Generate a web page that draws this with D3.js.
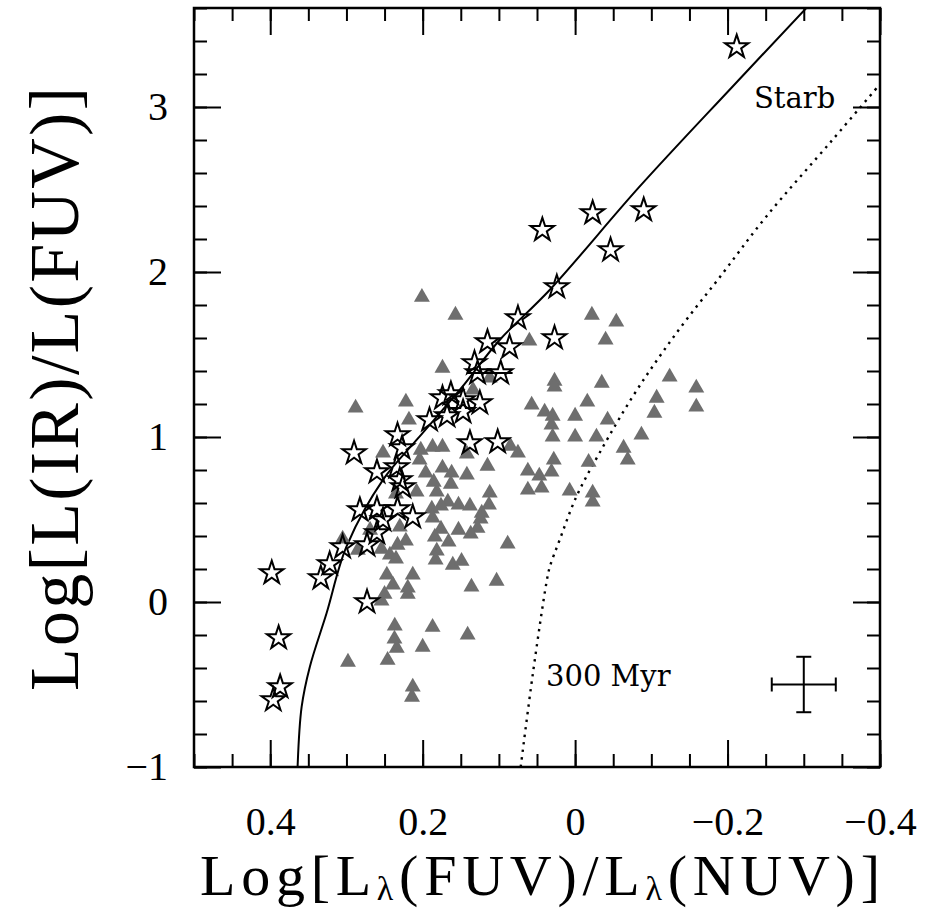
<!DOCTYPE html>
<html>
<head>
<meta charset="utf-8">
<script src="https://cdnjs.cloudflare.com/ajax/libs/d3/7.8.5/d3.min.js"></script>
<style>
html, body { margin: 0; padding: 0; background: #fff; }
svg { display: block; }
</style>
</head>
<body>
<svg id="chart" width="932" height="910"></svg>
<script>

// galaxies (gray filled triangles)
var triX = [0.201, 0.157, 0.060, 0.174, 0.288, 0.222, 0.057, 0.040, 0.218, 0.187,
  0.174, 0.2025, 0.252, 0.142, 0.085, 0.075, 0.204, 0.174, 0.142, 0.115,
  0.062, 0.047, 0.031, 0.196, 0.162, 0.1855, 0.163, 0.062, 0.044, 0.208,
  0.1815, 0.167, 0.153, 0.138, 0.112, 0.113, 0.188, 0.176, 0.1225, 0.187,
  0.124, 0.128, 0.230, 0.269, 0.176, 0.153, 0.137, 0.184, 0.222, 0.233,
  0.166, 0.0885, 0.305, 0.285, 0.254, 0.243, 0.235, 0.1815, 0.183, 0.1605,
  0.149, 0.247, 0.213, 0.103, 0.239, 0.2195, 0.2195, 0.136, 0.250, 0.254,
  0.2366, 0.187, 0.141, 0.237, 0.234, 0.200, 0.246, 0.298, 0.213, 0.214,
  -0.022, -0.054, -0.040, 0.027, 0.027, -0.035, -0.124, -0.159, -0.159, -0.107,
  -0.104, 0.0295, 0.031, -0.016, 0.000, -0.0426, -0.087, 0.0295, 0.000, -0.028,
  -0.0636, -0.069, 0.028, -0.0177, 0.0072, -0.023, -0.023, 0.134, 0.112, 0.235];
var triY = [1.848, 1.739, 1.582, 1.418, 1.176, 1.212, 1.194, 1.152, 1.103, 0.939,
  0.939, 0.921, 0.903, 0.897, 0.945, 0.903, 0.861, 0.812, 0.770, 0.824,
  0.794, 0.764, 0.788, 0.782, 0.782, 0.727, 0.715, 0.679, 0.691, 0.667,
  0.667, 0.606, 0.588, 0.582, 0.661, 0.588, 0.564, 0.582, 0.539, 0.509,
  0.503, 0.448, 0.455, 0.436, 0.442, 0.436, 0.412, 0.394, 0.370, 0.345,
  0.364, 0.352, 0.382, 0.315, 0.321, 0.285, 0.261, 0.309, 0.255, 0.224,
  0.248, 0.164, 0.164, 0.127, 0.103, 0.085, 0.048, 0.091, 0.048, 0.006,
  -0.145, -0.152, -0.200, -0.224, -0.279, -0.273, -0.352, -0.364, -0.515, -0.576,
  1.739, 1.697, 1.588, 1.339, 1.303, 1.327, 1.364, 1.297, 1.182, 1.236,
  1.145, 1.127, 1.073, 1.212, 1.127, 1.103, 1.012, 1.000, 1.000, 1.000,
  0.933, 0.861, 0.861, 0.848, 0.673, 0.661, 0.606, 1.285, 1.358, 0.655];

// starbursts (open stars)
var starX = [-0.212, 0.043, -0.023, -0.090, -0.0465, 0.024, 0.075, 0.115, 0.086, 0.027,
  0.132, 0.128, 0.0976, 0.163, 0.174, 0.147, 0.125, 0.147, 0.191, 0.168,
  0.233, 0.227, 0.138, 0.1016, 0.290, 0.260, 0.234, 0.230, 0.226, 0.2824,
  0.260, 0.233, 0.213, 0.252, 0.260, 0.273, 0.305, 0.322, 0.3336, 0.398,
  0.273, 0.389, 0.387, 0.396];
var starY = [3.364, 2.255, 2.358, 2.376, 2.133, 1.909, 1.721, 1.576, 1.545, 1.600,
  1.448, 1.388, 1.388, 1.261, 1.236, 1.224, 1.206, 1.152, 1.103, 1.127,
  1.012, 0.933, 0.964, 0.970, 0.903, 0.788, 0.818, 0.739, 0.697, 0.558,
  0.564, 0.564, 0.515, 0.497, 0.418, 0.345, 0.333, 0.230, 0.145, 0.176,
  0.000, -0.218, -0.515, -0.594];
// the one star with a horizontal bar through it
var barStar = 12;
var barX = [0.142, 0.082];

// starburst relation (solid) and 300 Myr model (dotted)
var starbX = [0.3641, 0.3588, 0.348, 0.326, 0.300, 0.2523, 0.208, 0.1514, 0.099, 0.0334, -0.0845, -0.2064, -0.303];
var starbY = [-1.0, -0.636, -0.392, -0.067, 0.335, 0.739, 0.982, 1.285, 1.588, 1.891, 2.517, 3.123, 3.598];
var myrX = [0.0714, 0.0553, 0.0377, 0.0334, 0.0203, -0.0016, -0.032, -0.0754, -0.1107, -0.1457, -0.187, -0.2506, -0.3375, -0.399];
var myrY = [-1.0, -0.430, 0.115, 0.21, 0.376, 0.638, 0.903, 1.244, 1.487, 1.709, 1.952, 2.335, 2.8, 3.133];

// typical error
var errX = -0.30, errY = -0.50, errDx = 0.042, errDy = 0.168;

var xTicks = [0.4, 0.2, 0, -0.2, -0.4];
var xTickLabels = ["0.4", "0.2", "0", "\u22120.2", "\u22120.4"];
var yTicks = [3, 2, 1, 0, -1];
var yTickLabels = ["3", "2", "1", "0", "\u22121"];

var svg = d3.select("#chart");
var x = d3.scaleLinear().domain([0.5, -0.4]).range([194, 880]);
var y = d3.scaleLinear().domain([-1, 3.6]).range([767, 8]);

var xMinor = d3.range(-8, 11).map(function(i) { return i * 0.05; });
var yMinor = d3.range(-5, 19).map(function(i) { return i * 0.2; });

svg.append("clipPath").attr("id", "clip")
  .append("rect").attr("x", 194).attr("y", 8).attr("width", 686).attr("height", 759);

function axisLayer(gen, tx, ty) {
  var g = svg.append("g").attr("transform", "translate(" + tx + "," + ty + ")").call(gen);
  g.select(".domain").remove();
  g.selectAll(".tick line").attr("stroke", "#000").attr("stroke-width", 2);
  return g;
}

// minor ticks on all four sides
axisLayer(d3.axisBottom(x).tickValues(xMinor).tickSize(-13).tickFormat(""), 0, 767);
axisLayer(d3.axisTop(x).tickValues(xMinor).tickSize(-13).tickFormat(""), 0, 8);
axisLayer(d3.axisLeft(y).tickValues(yMinor).tickSize(-13).tickFormat(""), 194, 0);
axisLayer(d3.axisRight(y).tickValues(yMinor).tickSize(-13).tickFormat(""), 880, 0);

// major ticks, labelled on bottom and left
var bx = axisLayer(d3.axisBottom(x).tickValues(xTicks).tickSize(-27).tickPadding(40)
  .tickFormat(function(d, i) { return xTickLabels[i]; }), 0, 767);
axisLayer(d3.axisTop(x).tickValues(xTicks).tickSize(-27).tickFormat(""), 0, 8);
var ly = axisLayer(d3.axisLeft(y).tickValues(yTicks).tickSize(-27).tickPadding(26)
  .tickFormat(function(d, i) { return yTickLabels[i]; }), 194, 0);
axisLayer(d3.axisRight(y).tickValues(yTicks).tickSize(-27).tickFormat(""), 880, 0);

[bx, ly].forEach(function(g) {
  g.attr("font-family", "'Liberation Serif', serif").attr("font-size", 40);
  g.selectAll("text").attr("fill", "#000");
});

svg.append("rect")
  .attr("x", 194).attr("y", 8).attr("width", 686).attr("height", 759)
  .attr("fill", "none").attr("stroke", "#000").attr("stroke-width", 2.5);

var plot = svg.append("g").attr("clip-path", "url(#clip)");

var line = d3.line()
  .x(function(d) { return x(d[0]); })
  .y(function(d) { return y(d[1]); })
  .curve(d3.curveCatmullRom);

plot.append("path")
  .attr("d", line(d3.zip(starbX, starbY)))
  .attr("fill", "none").attr("stroke", "#000").attr("stroke-width", 2);

plot.append("path")
  .attr("d", line(d3.zip(myrX, myrY)))
  .attr("fill", "none").attr("stroke", "#000").attr("stroke-width", 2.4)
  .attr("stroke-dasharray", "2.4,5.2");

// triangles first, stars drawn open on top
plot.selectAll(".tri")
  .data(d3.zip(triX, triY))
  .enter().append("path")
  .attr("class", "tri")
  .attr("d", d3.symbol(d3.symbolTriangle, 110))
  .attr("transform", function(d) { return "translate(" + x(d[0]) + "," + y(d[1]) + ")"; })
  .attr("fill", "#6e6e6e");

plot.append("line")
  .attr("x1", x(barX[0])).attr("x2", x(barX[1]))
  .attr("y1", y(starY[barStar])).attr("y2", y(starY[barStar]))
  .attr("stroke", "#000").attr("stroke-width", 2);

plot.selectAll(".star")
  .data(d3.zip(starX, starY))
  .enter().append("path")
  .attr("class", "star")
  .attr("d", d3.symbol(d3.symbolStar, 170))
  .attr("transform", function(d) { return "translate(" + x(d[0]) + "," + y(d[1]) + ")"; })
  .attr("fill", "none").attr("stroke", "#000").attr("stroke-width", 2);

// error cross
var ec = plot.append("g").attr("stroke", "#000").attr("stroke-width", 2);
ec.append("line").attr("x1", x(errX + errDx)).attr("x2", x(errX - errDx)).attr("y1", y(errY)).attr("y2", y(errY));
ec.append("line").attr("x1", x(errX)).attr("x2", x(errX)).attr("y1", y(errY + errDy)).attr("y2", y(errY - errDy));
[errX + errDx, errX - errDx].forEach(function(v) {
  ec.append("line").attr("x1", x(v)).attr("x2", x(v)).attr("y1", y(errY) - 7).attr("y2", y(errY) + 7);
});
[errY + errDy, errY - errDy].forEach(function(v) {
  ec.append("line").attr("x1", x(errX) - 7.5).attr("x2", x(errX) + 7.5).attr("y1", y(v)).attr("y2", y(v));
});

// curve labels
svg.append("text").attr("x", 754).attr("y", 108)
  .attr("font-family", "'DejaVu Serif', serif").attr("font-size", 29).text("Starb");
svg.append("text").attr("x", 546).attr("y", 686)
  .attr("font-family", "'DejaVu Serif', serif").attr("font-size", 29).text("300 Myr");

// axis titles
var xt = svg.append("text").attr("x", 540).attr("y", 895).attr("text-anchor", "middle")
  .attr("font-family", "'Liberation Serif', serif").attr("font-size", 58)
  .attr("textLength", 680).attr("lengthAdjust", "spacing");
xt.append("tspan").text("Log[L");
xt.append("tspan").attr("font-size", 34).attr("dy", 5).text("\u03bb");
xt.append("tspan").attr("dy", -5).text("(FUV)/L");
xt.append("tspan").attr("font-size", 34).attr("dy", 5).text("\u03bb");
xt.append("tspan").attr("dy", -5).text("(NUV)]");

svg.append("text")
  .attr("transform", "translate(78,389) rotate(-90)")
  .attr("text-anchor", "middle")
  .attr("font-family", "'Liberation Serif', serif").attr("font-size", 70)
  .attr("textLength", 604).attr("lengthAdjust", "spacing")
  .text("Log[L(IR)/L(FUV)]");

</script>
</body>
</html>
